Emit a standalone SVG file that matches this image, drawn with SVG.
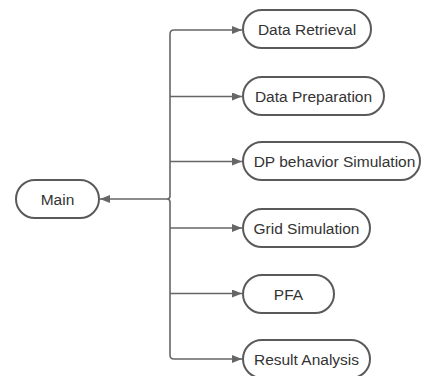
<svg xmlns="http://www.w3.org/2000/svg" width="422" height="376" viewBox="0 0 422 376">
<style>
.box{fill:#fff;stroke:#5a5a5a;stroke-width:2}
.lbl{font-family:"Liberation Sans",Arial,sans-serif;font-size:15.5px;fill:#333;text-anchor:middle;dominant-baseline:central}
.con{fill:none;stroke:#666;stroke-width:1.6}
</style>
<defs>
<marker id="ah" viewBox="0 0 10 8" refX="10" refY="4" markerWidth="10" markerHeight="8" markerUnits="userSpaceOnUse" orient="auto">
<path d="M0,0 L10,4 L0,8 Z" fill="#666"/>
</marker>
</defs>
<rect width="422" height="376" fill="#fff"/>
<g id="connectors">
<path class="con" d="M170,196 L170,34 Q170,30 174,30 L242,30" marker-end="url(#ah)"/>
<path class="con" d="M170,96.5 L242,96.5" marker-end="url(#ah)"/>
<path class="con" d="M170,161.5 L242,161.5" marker-end="url(#ah)"/>
<path class="con" d="M170,202 L170,355 Q170,359 174,359 L242,359" marker-end="url(#ah)"/>
<path class="con" d="M170,228 L242,228" marker-end="url(#ah)"/>
<path class="con" d="M170,293.5 L242,293.5" marker-end="url(#ah)"/>
<path class="con" d="M170,196 Q170,199 167,199 Q170,199 170,202"/>
<path class="con" d="M167,199 L100,199" marker-end="url(#ah)"/>
</g>
<g id="main"><rect class="box" x="16" y="180" width="83" height="38" rx="19"/><text class="lbl" x="57.5" y="199">Main</text></g>
<g id="data-retrieval"><rect class="box" x="243" y="10" width="128" height="38" rx="19"/><text class="lbl" x="307" y="29">Data Retrieval</text></g>
<g id="data-preparation"><rect class="box" x="243" y="77" width="141" height="38" rx="19"/><text class="lbl" x="313.5" y="96">Data Preparation</text></g>
<g id="dp-behavior"><rect class="box" x="243" y="142" width="177" height="38" rx="19"/><text class="lbl" x="334.5" y="161">DP behavior Simulation</text></g>
<g id="grid-simulation"><rect class="box" x="243" y="209" width="127" height="38" rx="19"/><text class="lbl" x="306.5" y="228">Grid Simulation</text></g>
<g id="pfa"><rect class="box" x="243" y="275" width="91" height="38" rx="19"/><text class="lbl" x="288.5" y="294">PFA</text></g>
<g id="result-analysis"><rect class="box" x="243" y="340" width="127" height="38" rx="19"/><text class="lbl" x="306.5" y="359">Result Analysis</text></g>
</svg>
